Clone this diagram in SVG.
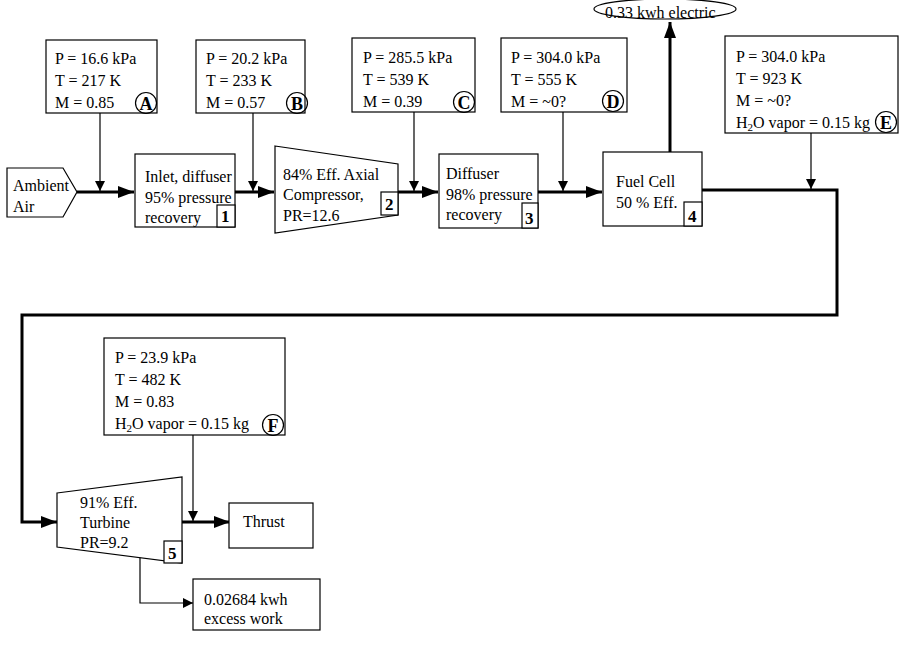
<svg xmlns="http://www.w3.org/2000/svg" width="905" height="665" viewBox="0 0 905 665">
<defs>
<style>
text{font-family:"Liberation Serif","Times New Roman",serif;font-size:16px;fill:#000}
.b{fill:#fff;stroke:#000;stroke-width:1.2}
.n{font-weight:bold;font-size:17px}
.c{fill:none;stroke:#000;stroke-width:1.2}
.thick{fill:none;stroke:#000;stroke-width:3}
.thin{fill:none;stroke:#000;stroke-width:1.2}
.cl{font-weight:bold;font-size:18px;text-anchor:middle}
</style>
<marker id="ah" markerUnits="userSpaceOnUse" markerWidth="16" markerHeight="12" refX="16" refY="6" orient="auto"><path d="M0,0 L16,6 L0,12 z" fill="#000"/></marker>
<marker id="as" markerUnits="userSpaceOnUse" markerWidth="10" markerHeight="10" refX="10" refY="5" orient="auto"><path d="M0,0 L10,5 L0,10 z" fill="#000"/></marker>
</defs>
<rect width="905" height="665" fill="#fff"/>

<g id="connectors">
<path class="thick" d="M77,192 H134" marker-end="url(#ah)"/>
<path class="thick" d="M235,192 H274" marker-end="url(#ah)"/>
<path class="thick" d="M398,192 H438" marker-end="url(#ah)"/>
<path class="thick" d="M538,192 H602" marker-end="url(#ah)"/>
<path class="thick" d="M670,152 V22" marker-end="url(#ah)"/>
<path class="thick" d="M702,190 H837 V315 H22 V522 H57" marker-end="url(#ah)"/>
<path class="thick" d="M182,522 H230" marker-end="url(#ah)"/>
<path class="thin" d="M100,113 V191" marker-end="url(#as)"/>
<path class="thin" d="M253,113 V191" marker-end="url(#as)"/>
<path class="thin" d="M414,112 V191" marker-end="url(#as)"/>
<path class="thin" d="M563,112 V191" marker-end="url(#as)"/>
<path class="thin" d="M811,133 V189" marker-end="url(#as)"/>
<path class="thin" d="M193,435 V521" marker-end="url(#as)"/>
<path class="thin" d="M140,556 V603 H193" marker-end="url(#as)"/>
</g>

<g id="ambient">
<path class="b" d="M7,168 H63 L77,192 L63,217 H7 Z"/>
<text x="13" y="191">Ambient</text>
<text x="13" y="212">Air</text>
</g>

<g id="stateA">
<rect class="b" x="46" y="40" width="111" height="73"/>
<text x="55" y="64">P = 16.6 kPa</text>
<text x="55" y="86">T = 217 K</text>
<text x="55" y="108">M = 0.85</text>
<circle class="c" cx="146" cy="103" r="10.5"/>
<text class="cl" x="146" y="109.5">A</text>
</g>

<g id="stateB">
<rect class="b" x="196" y="40" width="109" height="73"/>
<text x="206" y="64">P = 20.2 kPa</text>
<text x="206" y="86">T = 233 K</text>
<text x="206" y="108">M = 0.57</text>
<circle class="c" cx="297" cy="103" r="10.5"/>
<text class="cl" x="297" y="109.5">B</text>
</g>

<g id="stateC">
<rect class="b" x="352" y="38" width="123" height="74"/>
<text x="363" y="63">P = 285.5 kPa</text>
<text x="363" y="85">T = 539 K</text>
<text x="363" y="107">M = 0.39</text>
<circle class="c" cx="464" cy="102" r="10.5"/>
<text class="cl" x="464" y="108.5">C</text>
</g>

<g id="stateD">
<rect class="b" x="501" y="38" width="126" height="74"/>
<text x="511" y="63">P = 304.0 kPa</text>
<text x="511" y="85">T = 555 K</text>
<text x="511" y="107">M = ~0?</text>
<circle class="c" cx="613" cy="101" r="10.5"/>
<text class="cl" x="613" y="107.5">D</text>
</g>

<g id="stateE">
<rect class="b" x="725" y="36" width="173" height="97"/>
<text x="736" y="62">P = 304.0 kPa</text>
<text x="736" y="84">T = 923 K</text>
<text x="736" y="106">M = ~0?</text>
<text x="736" y="128">H<tspan font-size="11" dy="3">2</tspan><tspan dy="-3">O vapor = 0.15 kg</tspan></text>
<circle class="c" cx="886" cy="122" r="10.5"/>
<text class="cl" x="886" y="128.5">E</text>
</g>

<g id="electric">
<ellipse class="b" cx="665" cy="9" rx="71" ry="10"/>
<text x="605" y="18">0.33 kwh electric</text>
</g>

<g id="inlet">
<rect class="b" x="135" y="154" width="100" height="73"/>
<text x="145" y="182">Inlet, diffuser</text>
<text x="145" y="203">95% pressure</text>
<text x="145" y="223">recovery</text>
<rect class="b" x="217" y="205" width="18" height="22"/>
<text class="n" x="221" y="222">1</text>
</g>

<g id="compressor">
<path class="b" d="M275,146 L398,164 V215 L275,233 Z"/>
<text x="283" y="180">84% Eff. Axial</text>
<text x="283" y="200">Compressor,</text>
<text x="283" y="221">PR=12.6</text>
<rect class="b" x="381" y="192" width="17" height="23"/>
<text class="n" x="385" y="210">2</text>
</g>

<g id="diffuser">
<rect class="b" x="439" y="154" width="99" height="74"/>
<text x="446" y="179">Diffuser</text>
<text x="446" y="200">98% pressure</text>
<text x="446" y="220">recovery</text>
<rect class="b" x="522" y="203" width="16" height="25"/>
<text class="n" x="525" y="224">3</text>
</g>

<g id="fuelcell">
<rect class="b" x="603" y="152" width="99" height="74"/>
<text x="616" y="187">Fuel Cell</text>
<text x="616" y="208">50 % Eff.</text>
<rect class="b" x="684" y="202" width="18" height="24"/>
<text class="n" x="688" y="222">4</text>
</g>

<g id="stateF">
<rect class="b" x="104" y="338" width="181" height="97"/>
<text x="115" y="363">P = 23.9 kPa</text>
<text x="115" y="385">T = 482 K</text>
<text x="115" y="407">M = 0.83</text>
<text x="115" y="429">H<tspan font-size="11" dy="3">2</tspan><tspan dy="-3">O vapor = 0.15 kg</tspan></text>
<circle class="c" cx="273" cy="425" r="10.5"/>
<text class="cl" x="273" y="431.5">F</text>
</g>

<g id="turbine">
<path class="b" d="M57,493 L182,477 V563 L57,547 Z"/>
<text x="80" y="508">91% Eff.</text>
<text x="80" y="528">Turbine</text>
<text x="80" y="548">PR=9.2</text>
<rect class="b" x="164" y="541" width="18" height="22"/>
<text class="n" x="168" y="559">5</text>
</g>

<g id="thrust">
<rect class="b" x="229" y="503" width="84" height="45"/>
<text x="243" y="527" font-size="17">Thrust</text>
</g>

<g id="excess">
<rect class="b" x="193" y="579" width="127" height="51"/>
<text x="204" y="605">0.02684 kwh</text>
<text x="204" y="624">excess work</text>
</g>
</svg>
